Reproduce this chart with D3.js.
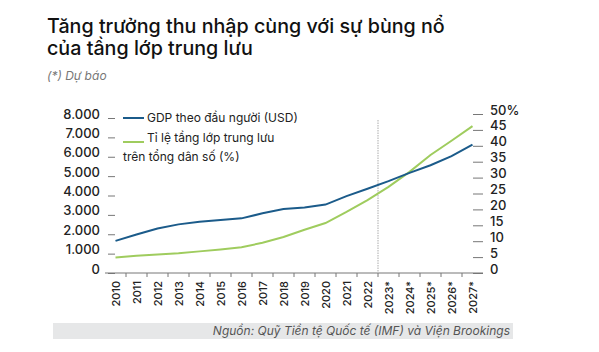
<!DOCTYPE html>
<html>
<head>
<meta charset="utf-8">
<script src="https://cdn.jsdelivr.net/npm/d3@7"></script>
<style>
  body { margin: 0; background: #fff; }
  svg { display: block; font-family: Inter, "Noto Sans", sans-serif; }
</style>
</head>
<body>
<svg width="599" height="352"></svg>
<script>
const years = ['2010', '2011', '2012', '2013', '2014', '2015', '2016', '2017', '2018',
    '2019', '2020', '2021', '2022', '2023*', '2024*', '2025*', '2026*', '2027*'];
const gdpPerCapita = [1660, 1990, 2300, 2510, 2650, 2730, 2820, 3080, 3300,
    3380, 3530, 3970, 4350, 4740, 5170, 5560, 6030, 6630];
const middleClassShare = [4.9, 5.4, 5.8, 6.2, 6.8, 7.4, 8.1, 9.5, 11.3,
    13.6, 15.7, 19.2, 22.9, 27.1, 31.8, 37.1, 41.6, 46.2];
const gdpTicks = [0, 1000, 2000, 3000, 4000, 5000, 6000, 7000, 8000];
const shareTicks = [0, 5, 10, 15, 20, 25, 30, 35, 40, 45, 50];
const forecastStart = '2023*';

const svg = d3.select('svg');
const blue = '#1b5b8a';
const green = '#9fcc5e';

// title block
svg.append('text').attr('x', 47).attr('y', 33)
    .attr('font-size', 19.7).attr('font-weight', 500).attr('fill', '#111')
    .text('Tăng trưởng thu nhập cùng với sự bùng nổ');
svg.append('text').attr('x', 47).attr('y', 55)
    .attr('font-size', 19.7).attr('font-weight', 500).attr('fill', '#111')
    .text('của tầng lớp trung lưu');
svg.append('text').attr('x', 47).attr('y', 80)
    .attr('font-size', 12).attr('font-style', 'italic').attr('fill', '#777')
    .text('(*) Dự báo');

const x = d3.scalePoint().domain(years).range([105, 483]).padding(0.5);
const yLeft = d3.scaleLinear().domain([0, 8000]).range([273, 118]);
const yRight = d3.scaleLinear().domain([0, 50]).range([273, 114]);

const vn = d3.formatLocale({ decimal: ',', thousands: '.', grouping: [3], currency: ['', ''] });

const leftAxis = svg.append('g')
    .attr('transform', 'translate(115,0)')
    .call(d3.axisLeft(yLeft).tickValues(gdpTicks).tickFormat(vn.format(',')).tickSize(7).tickPadding(8));
const rightAxis = svg.append('g')
    .attr('transform', 'translate(473,0)')
    .call(d3.axisRight(yRight).tickValues(shareTicks).tickFormat(d => d === 50 ? '50%' : d).tickSize(10).tickPadding(7));

[leftAxis, rightAxis].forEach(g => {
    g.select('.domain').remove();
    g.selectAll('.tick line').attr('stroke', '#777');
    g.selectAll('.tick text')
        .attr('dy', 0)
        .attr('font-family', 'Inter, "Noto Sans", sans-serif')
        .attr('font-size', 13).attr('font-weight', 500).attr('fill', '#222');
});

// x axis
const xAxis = svg.append('g')
    .attr('transform', 'translate(0,273)')
    .call(d3.axisBottom(x).tickSize(0).tickPadding(8));
xAxis.select('.domain').attr('stroke', '#777').attr('d', 'M105,0H483');
xAxis.selectAll('.tick text')
    .attr('font-family', 'Inter, "Noto Sans", sans-serif')
    .attr('font-size', 11).attr('font-weight', 500).attr('fill', '#222')
    .attr('text-anchor', 'end')
    .attr('transform', 'rotate(-90)')
    .attr('x', -8).attr('y', 0).attr('dy', '0.35em');

const step = x.step();
svg.append('g').selectAll('line')
    .data(years.slice(0, -1))
    .join('line')
    .attr('x1', d => x(d) + step / 2).attr('x2', d => x(d) + step / 2)
    .attr('y1', 273).attr('y2', 277)
    .attr('stroke', '#777');

// forecast divider
const divX = x(forecastStart) - step / 2;
svg.append('line')
    .attr('x1', divX).attr('x2', divX)
    .attr('y1', 120).attr('y2', 273)
    .attr('stroke', '#c8c8c8').attr('stroke-width', 1.5)
    .attr('stroke-dasharray', '1.5,1');

// lines
const gdpLine = d3.line()
    .x((d, i) => x(years[i]))
    .y(d => yLeft(d));
const shareLine = d3.line()
    .x((d, i) => x(years[i]))
    .y(d => yRight(d));

svg.append('path').datum(middleClassShare)
    .attr('d', shareLine)
    .attr('fill', 'none').attr('stroke', green).attr('stroke-width', 2);
svg.append('path').datum(gdpPerCapita)
    .attr('d', gdpLine)
    .attr('fill', 'none').attr('stroke', blue).attr('stroke-width', 2);

// legend
const legend = svg.append('g').attr('font-size', 12).attr('fill', '#222');
legend.append('line').attr('x1', 123).attr('x2', 144).attr('y1', 118).attr('y2', 118)
    .attr('stroke', blue).attr('stroke-width', 2);
legend.append('text').attr('x', 147).attr('y', 122).text('GDP theo đầu người (USD)');
legend.append('line').attr('x1', 123).attr('x2', 144).attr('y1', 142).attr('y2', 142)
    .attr('stroke', green).attr('stroke-width', 2);
legend.append('text').attr('x', 147).attr('y', 142).text('Tỉ lệ tầng lớp trung lưu');
legend.append('text').attr('x', 123).attr('y', 161).text('trên tổng dân số (%)');

// source bar
svg.append('rect').attr('x', 53).attr('y', 323).attr('width', 460).attr('height', 16)
    .attr('fill', '#e6e7e8');
svg.append('text').attr('x', 510).attr('y', 335)
    .attr('text-anchor', 'end').attr('font-size', 12)
    .attr('font-style', 'italic').attr('fill', '#555')
    .text('Nguồn: Quỹ Tiền tệ Quốc tế (IMF) và Viện Brookings');
</script>
</body>
</html>
